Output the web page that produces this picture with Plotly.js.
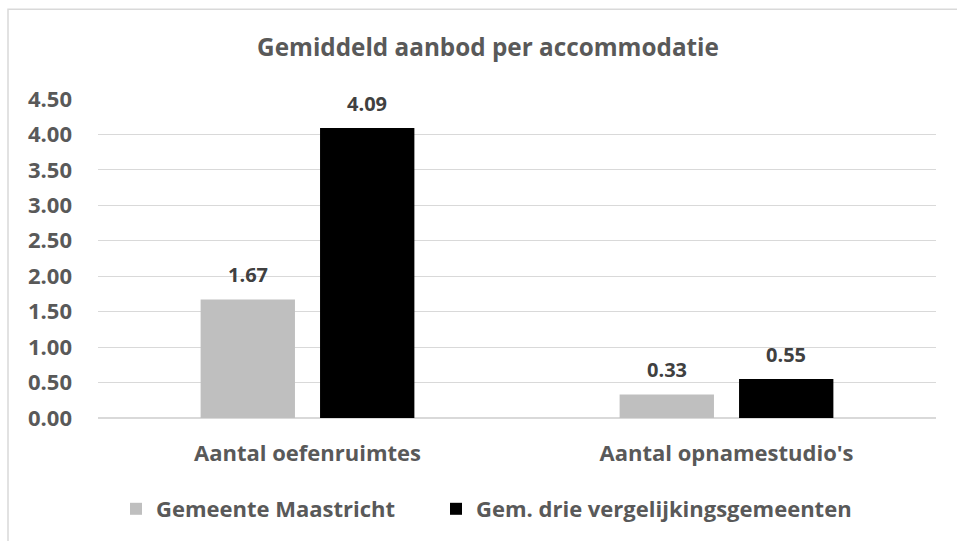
<!DOCTYPE html>
<html><head><meta charset="utf-8">
<script src="https://cdn.plot.ly/plotly-3.0.1.min.js"></script>
<style>html,body{margin:0;padding:0;background:#fff;}#chart{width:957px;height:541px;}</style>
</head><body><div id="chart"></div>
<script>
var categories = ["Aantal oefenruimtes", "Aantal opnamestudio's"];
var seriesNames = ["Gemeente Maastricht", "Gem. drie vergelijkingsgemeenten"];
var maastricht = [1.67, 0.33];
var vergelijking = [4.09, 0.55];
var yTicks = [0, 0.5, 1, 1.5, 2, 2.5, 3, 3.5, 4, 4.5];
var yTickLabels = ["0.00","0.50","1.00","1.50","2.00","2.50","3.00","3.50","4.00","4.50"];

var FONT = "'Open Sans', sans-serif";
var seriesData = [maastricht, vergelijking];
var colors = ["#bfbfbf", "#000000"];
var legendIds = ["legend", "legend2"];

var traces = seriesData.map(function(vals, i){
  return {type:'bar', name:seriesNames[i], x:categories, y:vals, legend:legendIds[i],
    marker:{color:colors[i]}, hoverinfo:'none'};
});

var annotations = [];
seriesData.forEach(function(vals, i){
  vals.forEach(function(v, j){
    annotations.push({x:categories[j], y:v, xref:'x', yref:'y', text:'<b>'+v.toFixed(2)+'</b>',
      showarrow:false, xshift:(i===0?-59.75:59.75), yshift:25, yanchor:'middle',
      font:{family:FONT, size:20, color:'#404040'}});
  });
});

function legendCfg(leftPx){
  return {orientation:'h', x:(leftPx-98)/838, xanchor:'left', y:-(509-419)/320, yanchor:'middle',
    font:{family:FONT, size:22, color:'#595959', weight:'bold'}, itemwidth:30, bgcolor:'rgba(0,0,0,0)'};
}

var layout = {
  width:957, height:541,
  margin:{l:98, r:21, t:99, b:122},
  paper_bgcolor:'#ffffff', plot_bgcolor:'#ffffff',
  barmode:'group', bargap:0.43, bargroupgap:0.21,
  title:{text:'<b>Gemiddeld aanbod per accommodatie</b>', x:488/957, xref:'container', xanchor:'center',
    y:1-47/541, yref:'container', yanchor:'middle',
    font:{family:FONT, size:24.3, color:'#595959'}},
  xaxis:{type:'category', showgrid:false, showline:false, zeroline:false, ticks:'',
    ticklabelstandoff:20,
    tickfont:{family:FONT, size:22, color:'#595959', weight:'bold'}},
  yaxis:{range:[0,4.5], tickvals:yTicks, ticktext:yTickLabels, showgrid:true, gridcolor:'#d9d9d9', gridwidth:1.2,
    zeroline:true, zerolinecolor:'#d9d9d9', zerolinewidth:1.2, showline:false, ticks:'',
    ticklabelstandoff:25,
    tickfont:{family:FONT, size:22, color:'#595959', weight:'bold'}},
  showlegend:true,
  legend:legendCfg(116),
  legend2:legendCfg(436),
  annotations:annotations,
  shapes:[{type:'rect', xref:'paper', yref:'paper', x0:(8-98)/838, x1:1.2, y0:-0.6, y1:1+(99-9)/320,
    line:{color:'#d9d9d9', width:1.5}, fillcolor:'rgba(0,0,0,0)', layer:'below'}]
};

Plotly.newPlot('chart', traces, layout, {staticPlot:true, displayModeBar:false});
</script></body></html>
